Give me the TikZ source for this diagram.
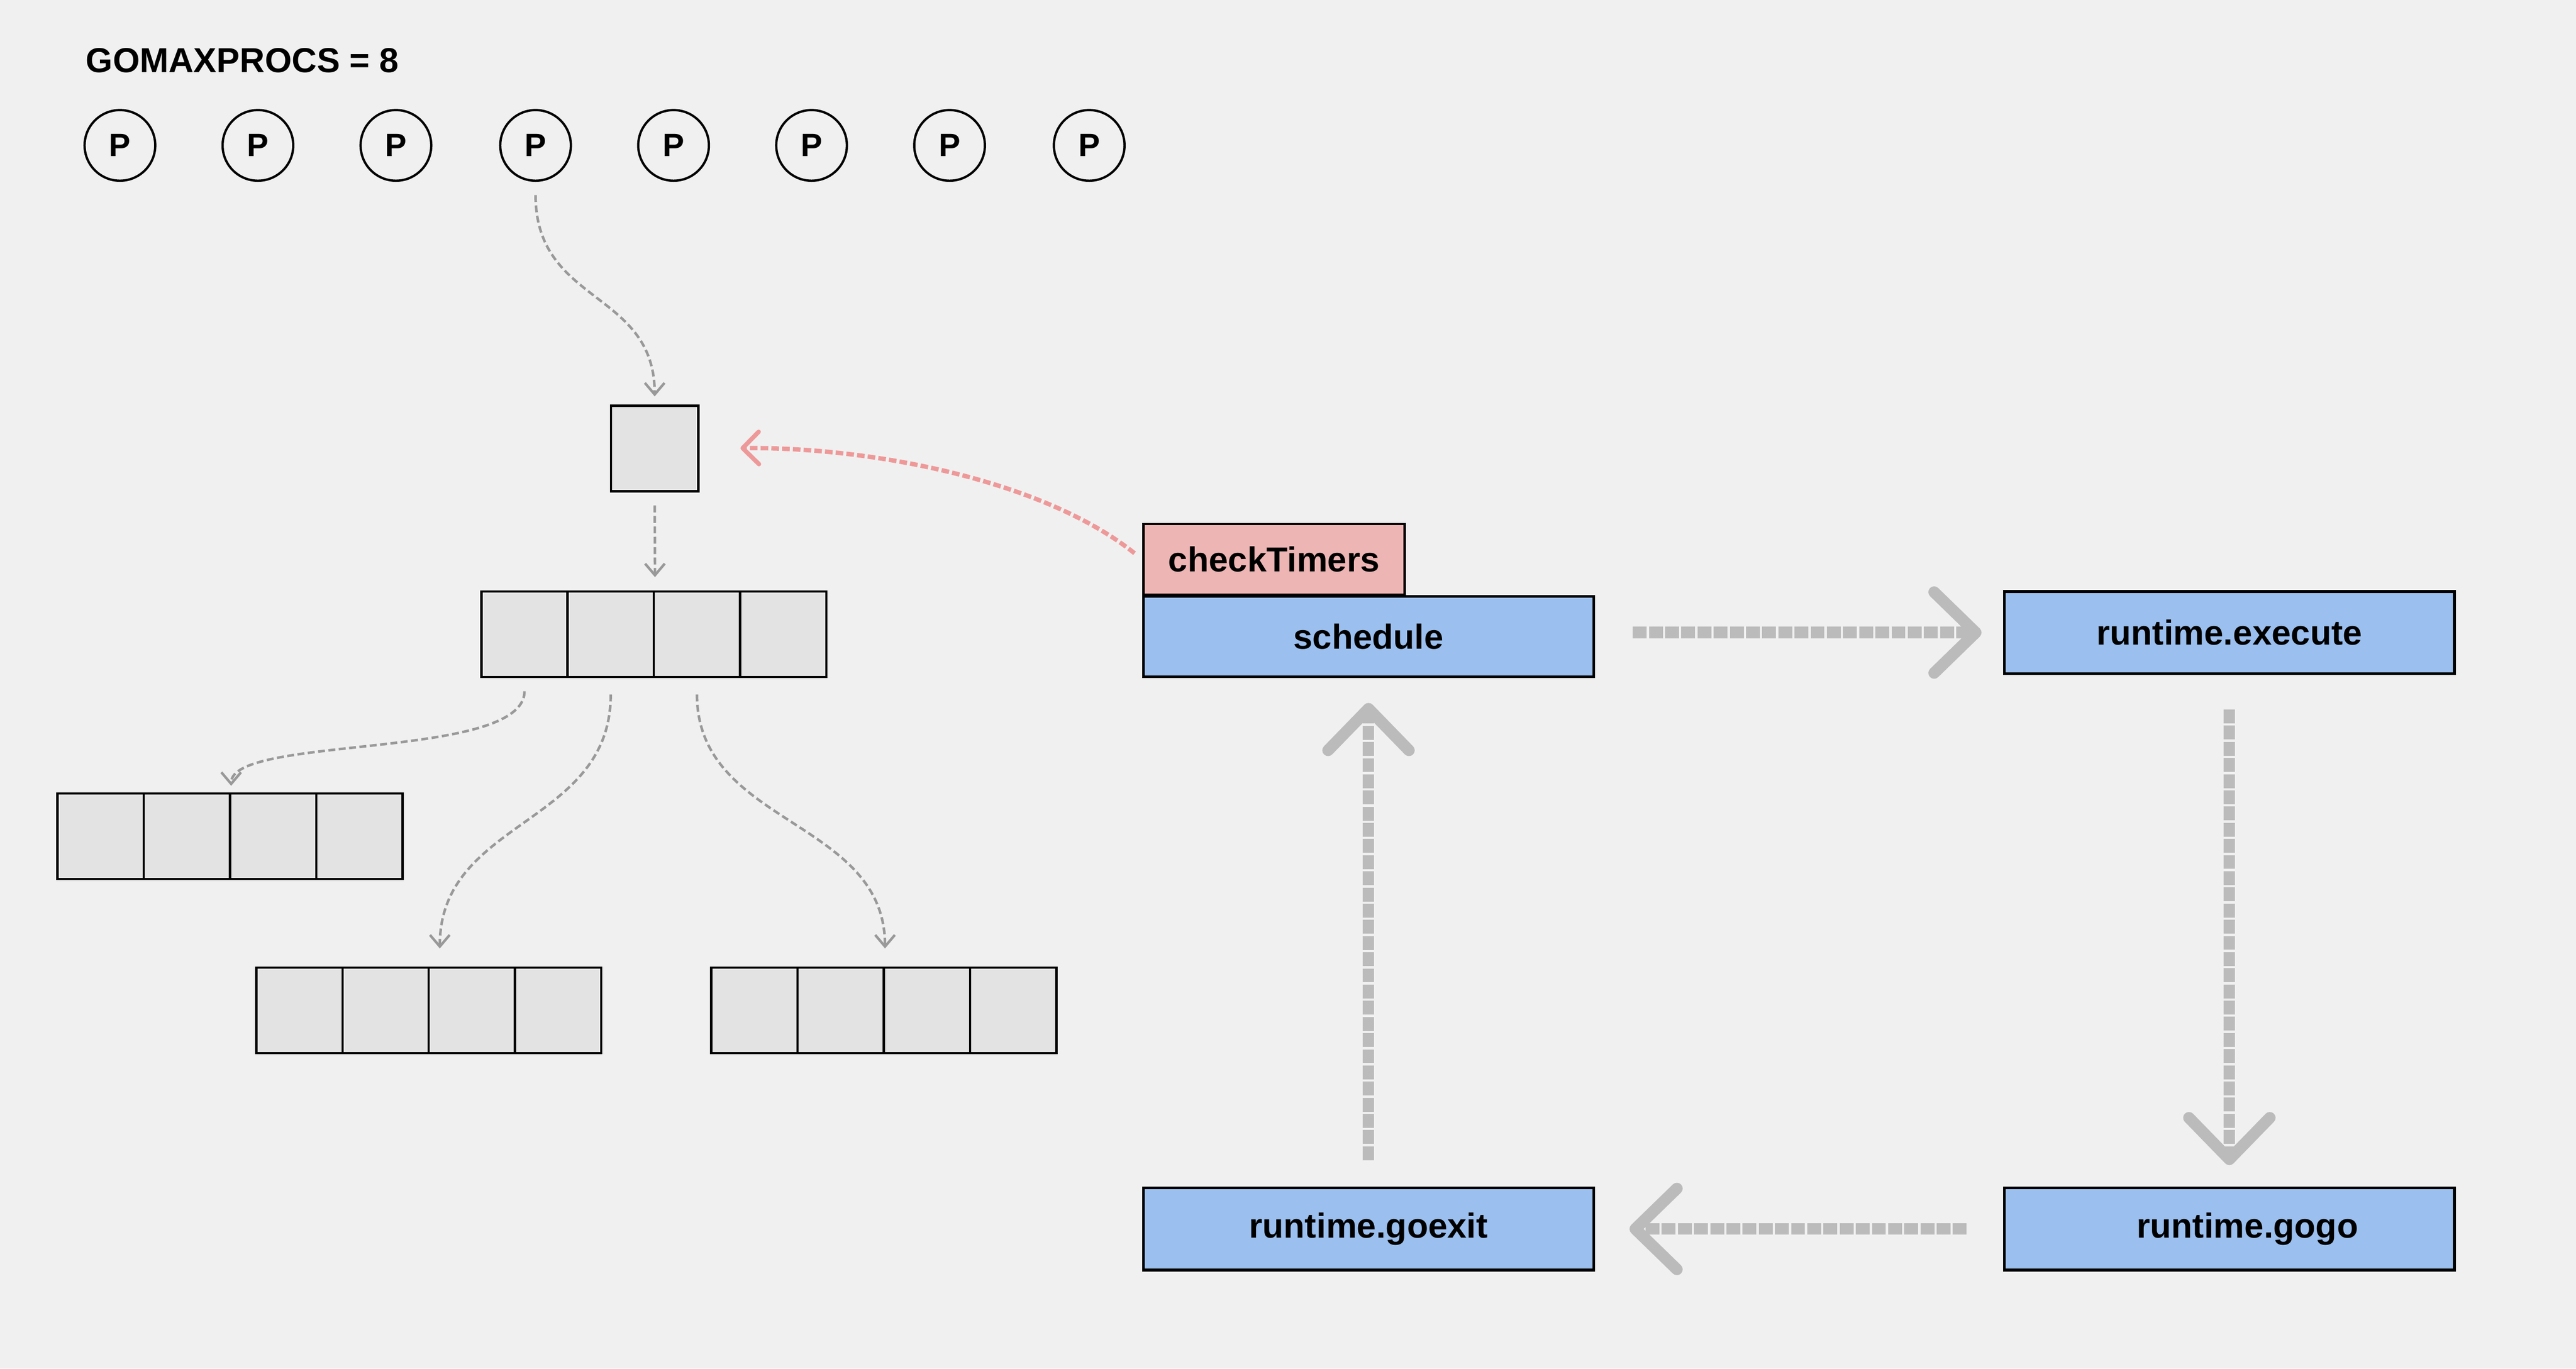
\documentclass[tikz,border=0pt]{standalone}
\usepackage{fontspec}
\setmainfont{Liberation Sans}
\usetikzlibrary{arrows.meta,calc}
\definecolor{bgcol}{HTML}{F0F0F0}
\definecolor{cellcol}{HTML}{E3E3E3}
\definecolor{funcblue}{HTML}{9BBFEE}
\definecolor{timerpink}{HTML}{EDB5B4}
\definecolor{thickgray}{HTML}{BBBBBB}
\definecolor{thingray}{HTML}{999999}
\definecolor{timerred}{HTML}{EE9999}
\begin{document}
\begin{tikzpicture}
[x=0.025cm,y=-0.025cm,
  procdecorate/.style={shape=circle,draw,line width=1pt,minimum size=1.075cm,inner sep=0pt,font=\fontsize{14}{16}\selectfont\bfseries},%
  celldecorate/.style={shape=rectangle,draw,line width=1pt,fill=cellcol,minimum width=1.3125cm,minimum height=1.3cm,inner sep=0pt},%
  funcdecorate/.style={shape=rectangle,draw,line width=1.2pt,fill=funcblue,minimum width=6.85cm,minimum height=1.25cm,inner sep=0pt,font=\fontsize{15}{18}\selectfont\bfseries},%
  timerdecorate/.style={shape=rectangle,draw,line width=1pt,fill=timerpink,minimum width=3.975cm,minimum height=1.075cm,inner sep=0pt,font=\fontsize{15}{18}\selectfont\bfseries},%
  thinlinedecorate/.style={draw=thingray,line width=1.1pt,dash pattern=on 3pt off 1.5pt,-{Straight Barb[length=5pt,width=8.5pt]}},%
  timerlinedecorate/.style={draw=timerred,line width=1.9pt,dash pattern=on 3.3pt off 1.35pt,-{Straight Barb[length=7pt,width=14pt,round]}},%
  thicklinedecorate/.style={draw=thickgray,line width=5pt,dash pattern=on 6pt off 1pt,-{Straight Barb[length=18pt,width=35pt,round]}}]
\useasboundingbox[fill=bgcol] (0,0) rectangle (1568,833);
%% processors
\node [anchor=base west,inner sep=0pt,font=\fontsize{15}{18}\selectfont\bfseries] (gomax) at (52,44) {GOMAXPROCS = 8};
\foreach \i/\x in {1/73, 2/157, 3/241, 4/326, 5/410, 6/494, 7/578, 8/663} {
  \node (p\i) at (\x,88.5) [procdecorate] {P};
}
%% heap cells
\node (q) at (398.5,273) [celldecorate,minimum width=1.325cm] {};
\foreach \rowname/\x/\y in {r0/293/386, r1/35/509, r2/156/615, r3/433/615} {
  \foreach \i in {1,...,4} {
    \node (\rowname c\i) at ({\x+52.5*\i-26.25},\y) [celldecorate] {};
  }
}
%% functions
\node (ct) at (775.5,340.5) [timerdecorate] {checkTimers};
\node (sched) at (833,387.5) [funcdecorate,minimum height=1.225cm] {schedule};
\node (exec) at (1357,385) [funcdecorate] {runtime.execute};
\node (gogo) at (1357,748) [funcdecorate] {\hspace*{0.55cm}runtime.gogo};
\node (goexit) at (833,748) [funcdecorate] {runtime.goexit};
%% thin edges
\draw[thinlinedecorate,shorten <=0.2cm,shorten >=0.125cm] (p4.south) .. controls +(0,75) and +(0,-70) .. (q.north);
\draw[thinlinedecorate,shorten <=0.2cm,shorten >=0.2cm] (q.south) -- (r0c2.north east);
\draw[thinlinedecorate,shorten <=0.2cm,shorten >=0.1cm] (r0c1.south) .. controls +(0,50) and +(0,-35) .. (r1c2.north east);
\draw[thinlinedecorate,shorten <=0.25cm,shorten >=0.275cm] (r0c2.south) .. controls +(0,90) and +(0,-90) .. ($(r2c2.north east)+(6,0)$);
\draw[thinlinedecorate,shorten <=0.25cm,shorten >=0.275cm] (r0c3.south) .. controls +(0,90) and +(0,-90) .. (r3c2.north east);
\draw[timerlinedecorate,shorten <=0.15cm,shorten >=0.625cm] (ct.west) .. controls +(-60,-48) and +(105,-1) .. (q.east);
%% thick edges
\draw[thicklinedecorate,shorten <=0.575cm,shorten >=0.325cm] (sched.east |- exec.west) -- (exec.west);
\draw[thicklinedecorate,shorten <=0.525cm,shorten >=0.325cm] (exec.south) -- (gogo.north);
\draw[thicklinedecorate,shorten <=0.55cm,shorten >=0.525cm] (gogo.west) -- (goexit.east);
\draw[thicklinedecorate,shorten <=0.4cm,shorten >=0.375cm] (goexit.north) -- (sched.south);
\end{tikzpicture}
\end{document}
